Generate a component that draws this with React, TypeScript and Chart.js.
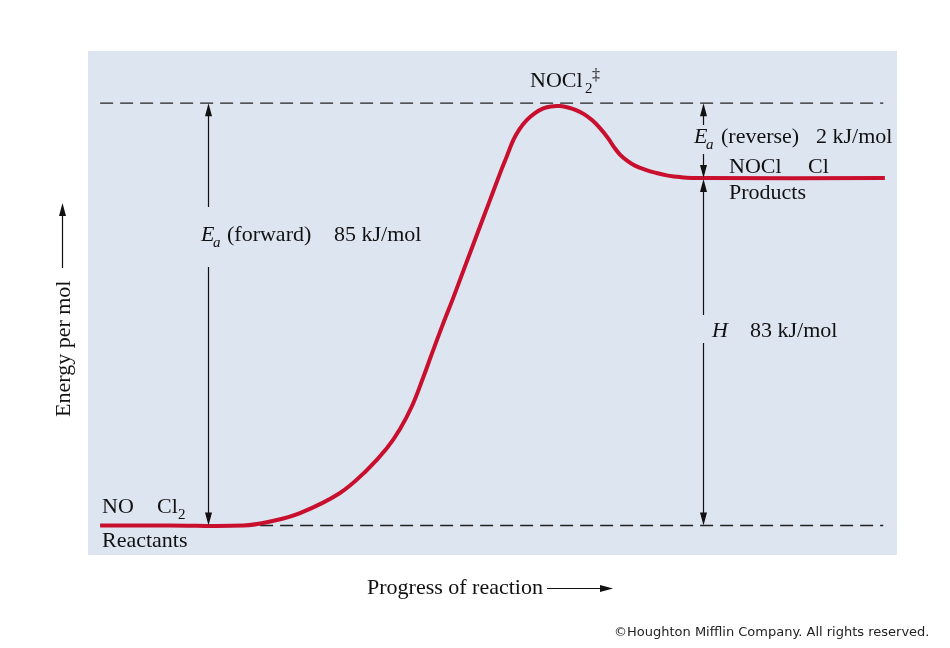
import React, { useEffect, useRef } from "react";
import { Chart, registerables } from "chart.js";

Chart.register(...registerables);

// Reaction coordinate (0..100 across the panel) and energy (schematic kJ/mol scale)
const progress = [1.5, 10, 19.2, 22.5, 26.2, 31.1, 34.49, 36.96, 38.57, 40.05, 41.41, 42.52, 43.72, 45.12, 46.6, 48.08, 49.57, 50.93, 51.73, 52.57, 53.34, 54.23, 55.25, 56.28, 57.23, 58.34, 59.33, 60.32, 61.31, 62.3, 63.29, 64.28, 65.02, 65.76, 66.63, 67.61, 68.85, 70.21, 71.69, 73.18, 75.65, 98.5];
const energy = [0, 0, 0, 0.8, 2.5, 6.5, 11.17, 15.59, 19.42, 24.04, 29.68, 34.63, 39.88, 45.71, 52.15, 58.57, 64.99, 70.87, 74.14, 77.56, 79.78, 81.59, 83.0, 83.94, 84.35, 84.41, 84.14, 83.6, 82.8, 81.59, 79.98, 77.97, 76.16, 74.65, 73.44, 72.43, 71.63, 70.97, 70.42, 70.12, 69.92, 69.92];

// Reference levels
const reactantLevel = 0;
const transitionLevel = 85;
const productLevel = 69.92;
const dashRange = [1.5, 98.3];

// Arrow positions on the progress axis
const forwardArrowX = 14.83;
const reverseArrowX = 76.0;

const RED = "#c90f2e";
const PANEL = "#dde5f1";
const INK = "#111111";
const SERIF = '"Liberation Serif", "Times New Roman", serif';
const FS = 22;

type Part = { t: string; x: number; it?: boolean; sub?: boolean; sup?: boolean };

function rich(ctx: CanvasRenderingContext2D, y: number, parts: Part[]) {
  for (const p of parts) {
    const size = p.sub || p.sup ? 15 : FS;
    ctx.font = `${p.it ? "italic " : ""}${size}px ${SERIF}`;
    const dy = p.sub ? 6 : p.sup ? -8 : 0;
    ctx.fillText(p.t, p.x, y + dy);
  }
}

function head(ctx: CanvasRenderingContext2D, x: number, tip: number, dir: number) {
  // dir = -1 -> points up, +1 -> points down
  ctx.beginPath();
  ctx.moveTo(x, tip);
  ctx.lineTo(x - 3.5, tip - dir * 13);
  ctx.lineTo(x + 3.5, tip - dir * 13);
  ctx.closePath();
  ctx.fill();
}

function seg(ctx: CanvasRenderingContext2D, x: number, y1: number, y2: number) {
  ctx.beginPath();
  ctx.moveTo(x, y1);
  ctx.lineTo(x, y2);
  ctx.stroke();
}

const overlay = {
  id: "overlay",
  beforeDraw(chart: any) {
    const { ctx, chartArea: a } = chart;
    ctx.save();
    ctx.fillStyle = "#ffffff";
    ctx.fillRect(0, 0, chart.width, chart.height);
    ctx.fillStyle = PANEL;
    ctx.fillRect(a.left, a.top, a.right - a.left, a.bottom - a.top);
    ctx.restore();
  },
  afterDatasetsDraw(chart: any) {
    const { ctx } = chart;
    const xs = chart.scales.x;
    const ys = chart.scales.y;
    const yR = ys.getPixelForValue(reactantLevel);
    const yT = ys.getPixelForValue(transitionLevel);
    const yP = ys.getPixelForValue(productLevel);
    const xf = Math.round(xs.getPixelForValue(forwardArrowX)) + 0.5;
    const xr = Math.round(xs.getPixelForValue(reverseArrowX)) + 0.5;

    ctx.save();
    ctx.strokeStyle = INK;
    ctx.fillStyle = INK;
    ctx.lineWidth = 1.2;

    // forward activation energy arrow
    head(ctx, xf, yT, -1);
    seg(ctx, xf, yT + 10, 207);
    seg(ctx, xf, 267, yR - 10);
    head(ctx, xf, yR, 1);

    // reverse activation energy arrow
    head(ctx, xr, yT, -1);
    seg(ctx, xr, yT + 10, 125);
    seg(ctx, xr, 154, yP - 10);
    head(ctx, xr, yP, 1);

    // enthalpy arrow
    head(ctx, xr, yP + 1, -1);
    seg(ctx, xr, yP + 10, 315);
    seg(ctx, xr, 343, yR - 10);
    head(ctx, xr, yR, 1);

    // y-axis title arrow
    seg(ctx, 62.5, 268, 212);
    head(ctx, 62.5, 203, -1);
    // x-axis title arrow
    ctx.beginPath();
    ctx.moveTo(547, 588.5);
    ctx.lineTo(605, 588.5);
    ctx.stroke();
    ctx.beginPath();
    ctx.moveTo(613, 588.5);
    ctx.lineTo(600, 585);
    ctx.lineTo(600, 592);
    ctx.closePath();
    ctx.fill();

    ctx.textBaseline = "alphabetic";
    ctx.textAlign = "left";

    rich(ctx, 87, [
      { t: "NOCl", x: 530 },
      { t: "2", x: 585, sub: true },
    ]);
    ctx.font = `16px ${SERIF}`;
    ctx.fillText("‡", 592, 80);

    rich(ctx, 143, [
      { t: "E", x: 694, it: true },
      { t: "a", x: 706, it: true, sub: true },
      { t: "(reverse)", x: 721 },
      { t: "2 kJ/mol", x: 816 },
    ]);
    rich(ctx, 173, [
      { t: "NOCl", x: 729 },
      { t: "Cl", x: 808 },
    ]);
    rich(ctx, 199, [{ t: "Products", x: 729 }]);

    rich(ctx, 241, [
      { t: "E", x: 201, it: true },
      { t: "a", x: 213, it: true, sub: true },
      { t: "(forward)", x: 227 },
      { t: "85 kJ/mol", x: 334 },
    ]);

    rich(ctx, 337, [
      { t: "H", x: 712, it: true },
      { t: "83 kJ/mol", x: 750 },
    ]);

    rich(ctx, 513, [
      { t: "NO", x: 102 },
      { t: "Cl", x: 157 },
      { t: "2", x: 178, sub: true },
    ]);
    rich(ctx, 547, [{ t: "Reactants", x: 102 }]);

    rich(ctx, 594, [{ t: "Progress of reaction", x: 367 }]);

    ctx.save();
    ctx.translate(70, 417);
    ctx.rotate(-Math.PI / 2);
    ctx.font = `${FS}px ${SERIF}`;
    ctx.fillText("Energy per mol", 0, 0);
    ctx.restore();

    ctx.font = `13px "DejaVu Sans", Verdana, sans-serif`;
    ctx.fillStyle = "#222";
    ctx.fillText("©Houghton Mifflin Company. All rights reserved.", 614, 636);

    ctx.restore();
  },
};

export default function App() {
  const ref = useRef<HTMLCanvasElement | null>(null);

  useEffect(() => {
    if (!ref.current) return;
    const curve = progress.map((x, i) => ({ x, y: energy[i] }));
    const topDash = dashRange.map((x) => ({ x, y: transitionLevel }));
    const bottomDash = dashRange.map((x) => ({ x, y: reactantLevel }));

    const chart = new Chart(ref.current, {
      type: "line",
      data: {
        datasets: [
          {
            data: curve,
            borderColor: RED,
            borderWidth: 4,
            tension: 0.4,
            pointRadius: 0,
            fill: false,
          },
          {
            data: topDash,
            borderColor: "#222",
            borderWidth: 1.4,
            borderDash: [13, 7],
            pointRadius: 0,
            fill: false,
          },
          {
            data: bottomDash,
            borderColor: "#222",
            borderWidth: 1.4,
            borderDash: [13, 7],
            pointRadius: 0,
            fill: false,
          },
        ],
      },
      options: {
        responsive: false,
        animation: false,
        layout: { padding: { left: 88, top: 51, right: 53, bottom: 93 } },
        scales: {
          x: { type: "linear", min: 0, max: 100, display: false },
          y: { type: "linear", min: -5.94, max: 95.5, display: false },
        },
        plugins: {
          legend: { display: false },
          tooltip: { enabled: false },
        },
      },
      plugins: [overlay],
    } as any);

    return () => chart.destroy();
  }, []);

  return (
    <div style={{ position: "absolute", left: 0, top: 0, width: 950, height: 648, background: "#fff" }}>
      <canvas ref={ref} width={950} height={648} style={{ display: "block", width: 950, height: 648 }} />
    </div>
  );
}
